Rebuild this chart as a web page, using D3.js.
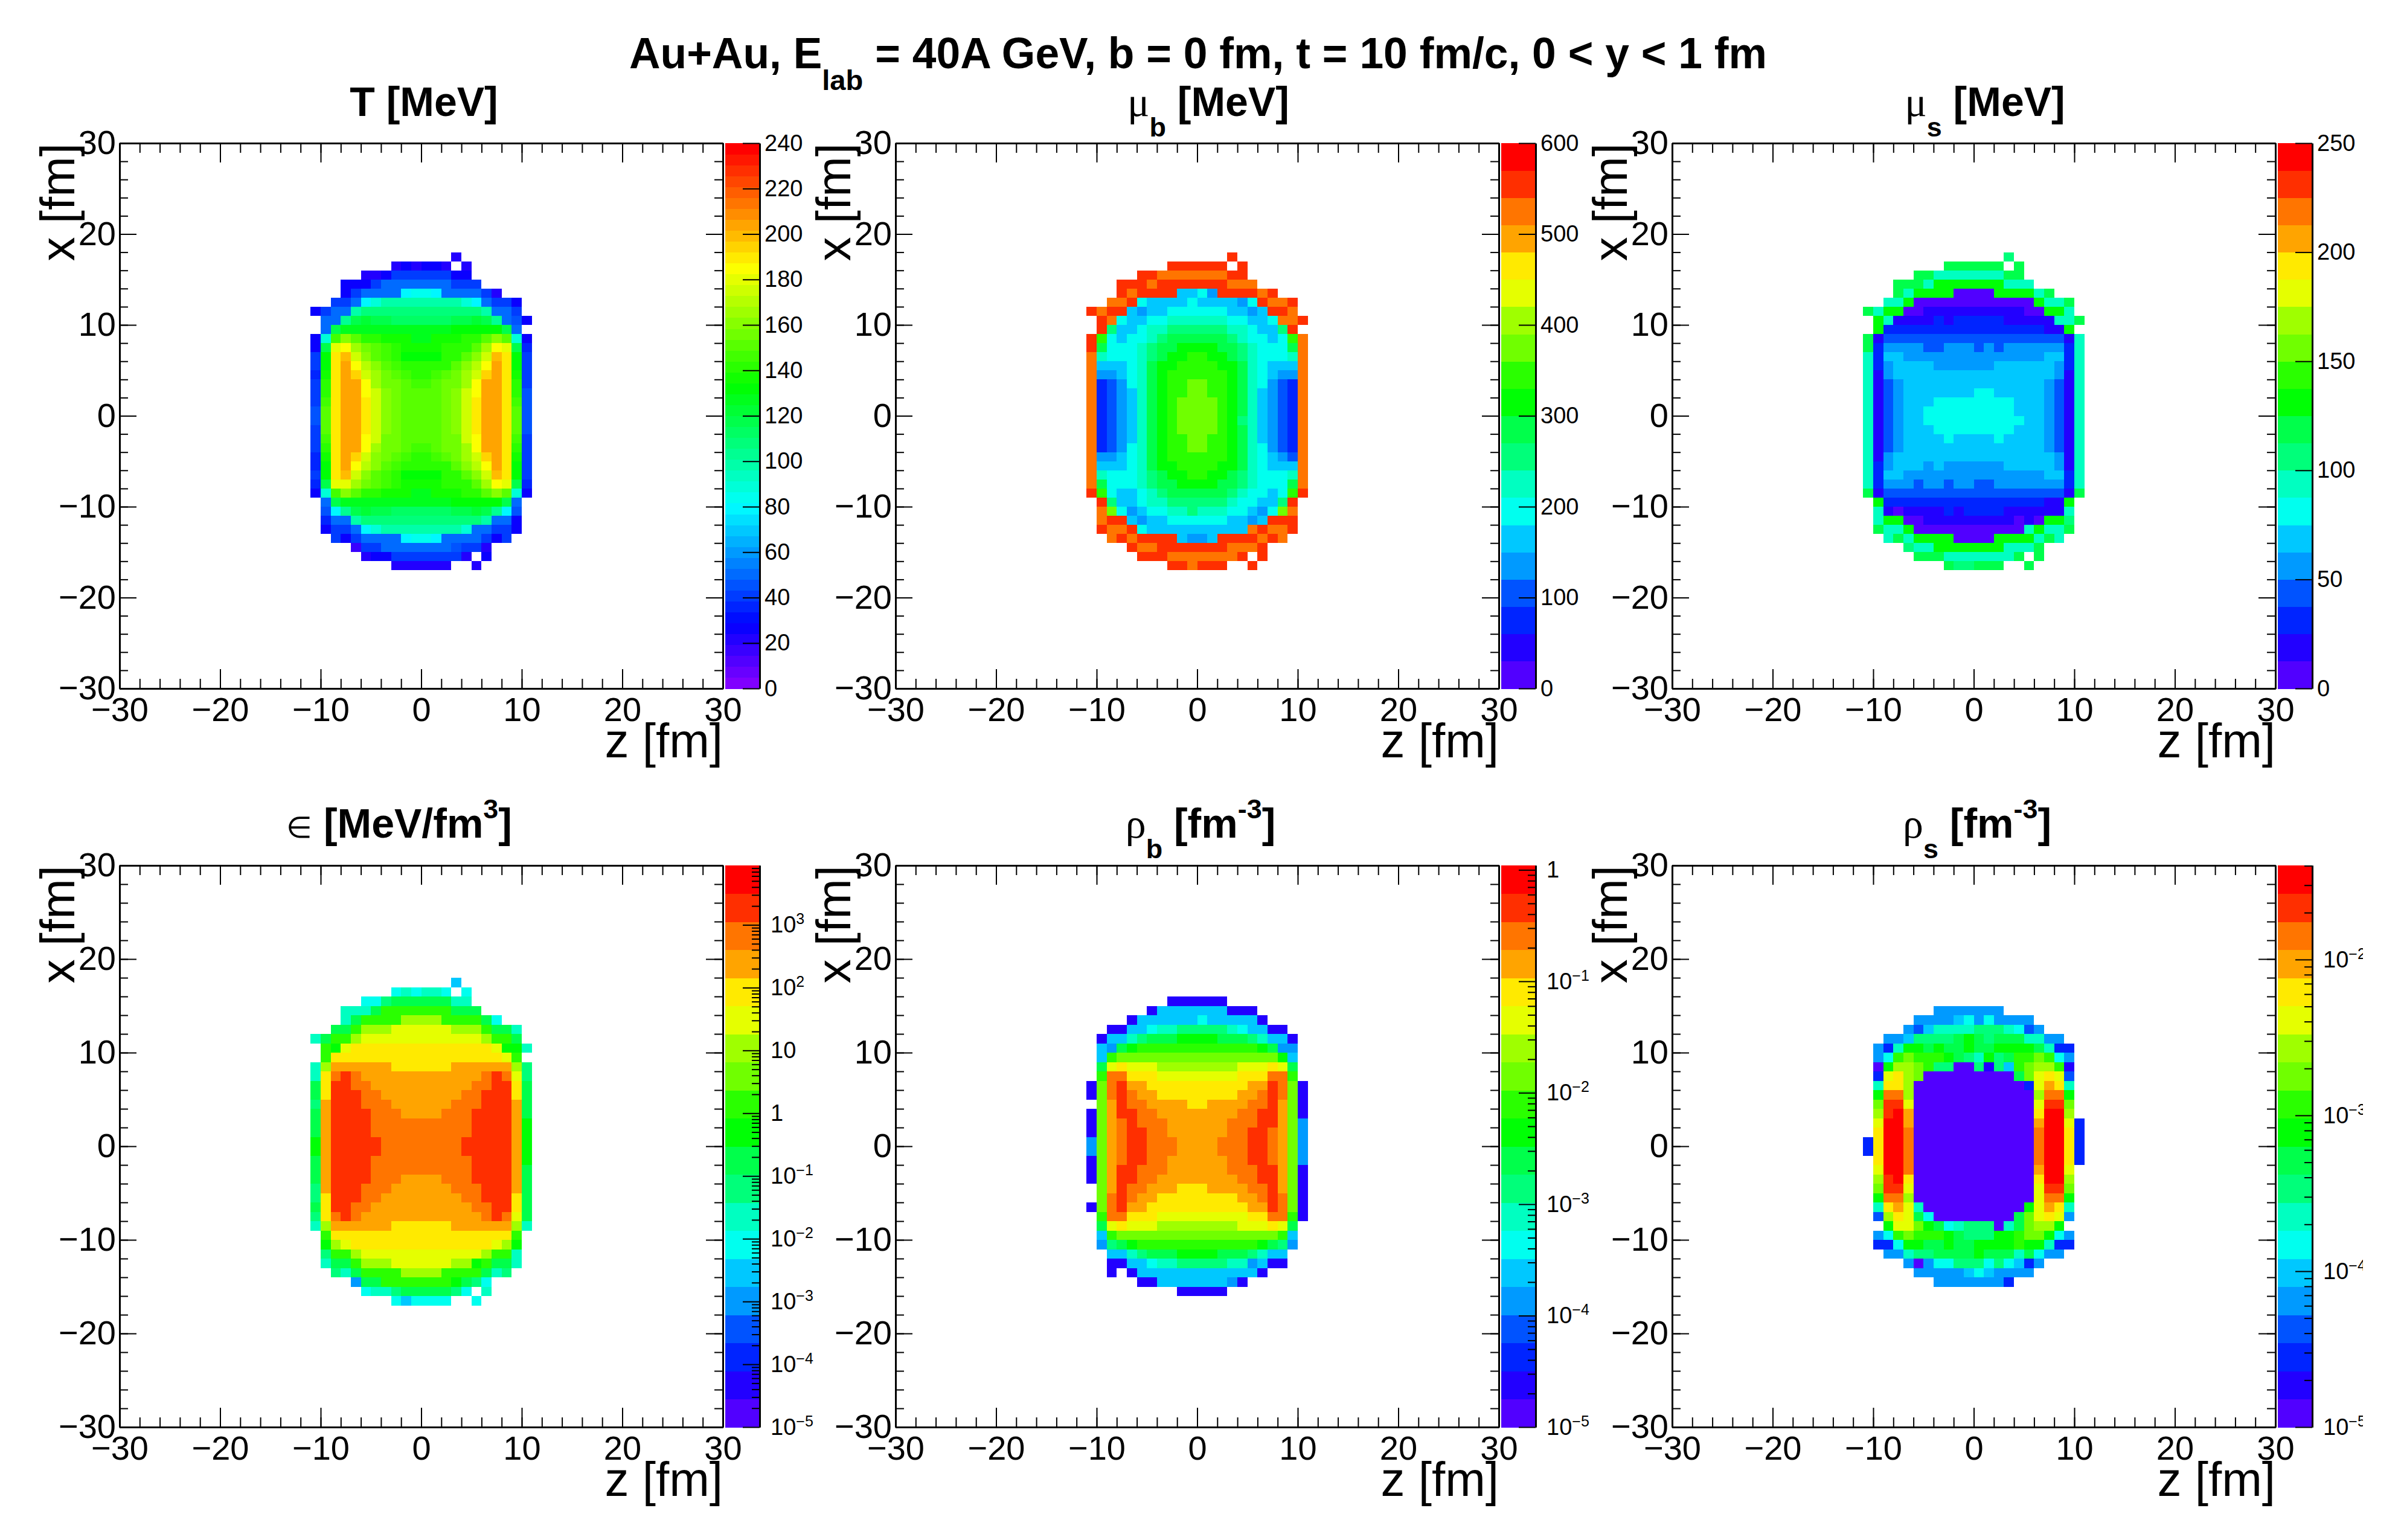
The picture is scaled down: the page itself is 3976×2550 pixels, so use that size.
<!DOCTYPE html>
<html>
<head>
<meta charset="utf-8">
<script src="https://cdn.jsdelivr.net/npm/d3@7"></script>
<style>
  body { margin: 0; background: #fff; }
  text { font-family: "Liberation Sans", Arial, sans-serif; white-space: pre; }
</style>
</head>
<body>
<svg id="chart" width="3976" height="2550"></svg>
<script>
const _ = null;

// T in MeV, rows from x = 17..18 fm down to -17..-18 fm, columns from z = -11..-10 fm
const tempMeV = [
[_,_,_,_,_,_,_,_,_,_,_,_,_,_,20],
[_,_,_,_,_,_,_,_,20,27,20,27,27,20,_,20],
[_,_,_,_,_,20,20,27,40,40,40,40,40,40,27,27],
[_,_,_,27,27,27,43,50,50,50,50,50,50,50,43,43,43],
[_,_,_,27,43,50,50,50,50,80,86,86,80,50,50,50,50,43,20],
[_,_,43,43,50,80,90,100,100,100,100,100,100,100,100,90,80,50,43,43,27],
[27,43,50,50,97,110,110,110,110,110,110,110,110,110,110,110,110,100,50,50,43],
[_,50,50,103,117,120,117,117,113,113,113,113,113,113,117,117,120,117,103,50,47,27],
[_,50,117,127,127,127,127,127,127,127,127,127,127,127,130,130,130,130,130,117,50],
[27,90,147,160,150,143,140,137,137,137,127,127,137,137,137,140,143,150,160,150,90,27],
[27,117,180,187,167,156,150,147,140,137,137,137,137,140,140,143,150,167,187,180,117,36],
[40,130,191,198,173,160,150,147,140,133,133,133,133,140,143,150,160,173,198,191,130,40],
[40,133,191,204,187,170,163,150,147,140,140,140,140,143,150,160,170,187,204,191,133,40],
[36,137,191,204,195,173,167,154,150,147,143,143,147,150,154,167,173,195,204,191,137,40],
[40,140,191,206,202,187,167,156,154,150,147,147,150,154,156,167,187,202,206,191,140,43],
[40,143,191,206,202,187,173,160,154,150,150,150,150,154,160,173,187,202,206,191,143,47],
[40,147,191,206,202,191,173,163,156,150,150,150,150,156,163,173,191,206,206,191,147,47],
[47,150,191,206,206,191,173,163,156,150,150,150,150,156,163,173,191,206,206,191,150,47],
[47,150,191,206,206,191,173,163,156,150,150,150,150,156,163,173,191,206,206,191,150,47],
[40,150,191,206,202,191,173,163,156,150,150,150,150,156,163,173,191,206,206,191,150,47],
[40,147,191,206,202,187,173,156,154,150,150,150,150,154,156,173,187,202,206,191,147,43],
[40,143,191,206,202,187,167,156,154,150,147,147,150,154,156,167,187,202,206,191,143,43],
[36,137,191,204,195,173,163,154,150,147,143,143,147,150,154,167,173,195,204,191,137,40],
[36,133,191,204,187,170,163,150,147,140,140,140,140,143,150,160,170,187,204,191,133,40],
[40,130,191,198,173,160,150,147,140,133,133,133,133,140,143,150,160,173,198,191,130,40],
[36,117,180,180,167,156,150,147,140,137,137,137,137,140,140,143,150,167,187,180,117,36],
[27,90,147,160,150,143,140,137,137,137,127,127,137,137,137,140,143,150,160,150,90,27],
[_,50,117,127,127,127,127,127,127,127,127,127,127,127,130,130,130,130,130,117,50],
[_,47,80,103,117,120,117,117,113,113,113,113,113,113,117,117,120,117,103,80,47],
[_,36,50,50,97,110,110,110,110,110,110,110,110,110,110,110,110,100,50,50,27],
[_,27,43,43,50,80,90,100,100,100,100,100,100,100,100,90,50,50,43,43,27],
[_,_,43,27,43,50,50,50,50,80,86,86,80,50,50,50,50,43,27,40],
[_,_,_,_,17,43,43,50,50,50,50,50,50,50,47,43,40,20],
[_,_,_,_,_,20,27,27,40,43,43,43,43,43,40,20,_,27],
[_,_,_,_,_,_,_,_,20,20,20,20,20,20,_,_,20]
];

// the other five panels: contour band (0..19) each cell falls in
const muBBands = [
[_,_,_,_,_,_,_,_,_,_,_,_,_,_,18],
[_,_,_,_,_,_,_,_,18,18,18,18,18,18,_,18],
[_,_,_,_,_,18,18,17,17,17,17,17,17,17,18,18],
[_,_,_,18,18,18,17,18,18,18,18,18,18,18,17,17,17],
[_,_,_,18,17,18,18,18,18,5,5,6,4,18,18,18,18,17,18],
[_,_,17,17,18,6,5,5,5,5,6,5,5,5,5,4,6,18,17,17,18],
[18,17,18,18,5,4,5,5,6,6,6,6,6,6,5,5,4,5,18,18,17],
[_,18,17,6,5,5,6,6,7,7,7,7,7,7,6,6,5,5,6,17,17,18],
[_,18,8,5,5,6,7,7,8,8,8,8,8,8,7,7,6,5,5,8,18],
[18,11,6,5,6,6,7,8,9,9,9,9,9,9,8,7,6,6,5,6,11,17],
[18,9,6,6,6,7,8,9,9,10,10,10,10,9,9,8,7,6,6,6,9,17],
[17,7,6,6,6,7,8,9,10,10,11,11,10,10,9,8,7,6,6,6,7,17],
[17,5,5,5,6,7,9,10,10,11,11,11,11,10,10,9,7,6,5,5,5,17],
[17,4,4,5,6,7,9,10,11,11,11,11,11,11,10,9,7,6,5,4,4,17],
[17,2,3,4,6,7,9,10,11,11,12,12,11,11,10,9,7,6,4,3,2,17],
[17,2,3,4,5,7,9,10,11,11,12,12,11,11,10,9,7,5,4,3,2,17],
[17,2,3,4,5,7,9,10,11,12,12,12,12,11,10,9,7,5,4,3,2,17],
[17,2,3,4,5,7,9,10,11,12,12,12,12,11,10,9,7,5,4,3,2,17],
[17,2,3,4,5,7,9,10,11,12,12,12,12,11,10,8,7,5,4,3,2,17],
[17,2,3,4,5,7,9,10,11,12,12,12,12,11,10,9,7,5,4,3,2,17],
[17,2,3,4,5,7,9,10,11,11,12,12,11,11,10,9,7,5,4,3,2,17],
[17,2,3,4,6,7,9,10,11,11,12,12,11,11,10,9,7,6,4,3,2,17],
[17,4,4,5,6,7,9,10,11,11,11,11,11,11,10,9,7,6,5,4,3,17],
[17,5,5,5,6,7,9,10,10,11,11,11,11,10,10,9,7,6,5,5,5,17],
[17,7,6,6,6,7,8,9,10,10,11,11,10,10,9,8,7,6,6,6,7,17],
[17,9,6,6,6,7,8,9,9,10,10,10,10,9,9,8,7,6,6,6,9,17],
[18,11,6,5,5,6,7,8,9,9,9,9,9,9,8,7,6,6,5,6,11,18],
[_,18,8,5,5,6,7,7,8,8,8,8,8,8,7,6,6,5,5,8,18],
[_,17,12,6,4,5,6,6,7,7,8,7,7,7,6,6,5,4,6,12,17],
[_,17,18,18,5,4,5,5,6,6,6,6,6,6,5,5,4,5,18,18,18],
[_,18,17,17,18,6,5,5,5,5,5,5,5,5,5,5,17,18,17,17,18],
[_,_,17,18,17,18,18,18,18,5,4,4,5,18,18,18,18,17,18,17],
[_,_,_,_,18,17,17,18,18,18,18,18,18,18,17,17,17,18],
[_,_,_,_,_,18,18,18,17,17,17,17,17,17,17,18,_,18],
[_,_,_,_,_,_,_,_,18,18,17,18,18,18,_,_,18]
];

const muSBands = [
[_,_,_,_,_,_,_,_,_,_,_,_,_,_,8],
[_,_,_,_,_,_,_,_,9,9,9,9,9,9,_,9],
[_,_,_,_,_,9,9,7,7,7,7,7,7,7,9,9],
[_,_,_,9,9,9,7,10,10,10,10,10,10,10,7,7,7],
[_,_,_,9,7,10,10,10,10,0,0,0,0,10,10,10,10,7,9],
[_,_,7,7,10,0,0,0,0,0,0,0,0,0,0,0,0,10,7,7,9],
[9,7,10,10,0,0,1,1,1,1,1,1,1,1,1,1,0,0,10,10,7],
[_,10,7,1,1,1,1,2,1,2,2,2,2,2,1,1,1,1,1,7,7,9],
[_,10,2,2,2,2,2,2,2,2,2,2,2,2,2,2,2,2,1,1,10],
[9,1,3,3,3,3,3,3,3,3,3,3,3,3,3,3,3,3,3,3,1,7],
[9,2,4,4,4,4,3,3,4,4,4,3,4,3,4,4,4,4,4,4,2,7],
[7,2,5,5,4,4,4,4,4,4,4,4,4,4,4,4,4,4,5,5,2,7],
[7,2,4,5,5,5,5,4,4,4,4,4,4,5,5,5,5,5,5,4,2,7],
[7,1,4,5,5,5,5,5,5,5,5,5,5,5,5,5,5,5,5,4,1,7],
[7,1,3,4,5,5,5,5,5,5,5,5,5,5,5,5,5,5,4,3,1,7],
[7,1,3,4,5,5,5,5,5,5,5,6,6,5,5,5,5,5,4,3,1,7],
[7,1,3,4,5,5,5,6,6,6,6,6,6,6,6,5,5,5,4,3,1,7],
[7,1,3,4,5,5,6,6,6,6,6,6,6,6,6,5,5,5,4,3,1,7],
[7,1,3,4,5,5,6,6,6,6,6,6,6,6,6,6,5,5,4,3,1,7],
[7,1,3,4,5,5,5,6,6,6,6,6,6,6,6,5,5,5,4,3,1,7],
[7,1,3,4,5,5,5,5,6,5,5,5,5,6,5,5,5,5,4,3,1,7],
[7,1,3,4,5,5,5,5,5,5,5,5,5,5,5,5,5,5,4,3,1,7],
[7,1,4,5,5,5,5,5,5,5,5,5,5,5,5,5,5,5,5,4,1,7],
[7,2,4,5,5,5,4,5,4,4,4,4,4,4,5,5,5,5,5,4,1,7],
[7,2,5,5,4,4,4,4,4,4,4,4,4,4,4,4,4,4,5,5,2,7],
[7,2,4,4,4,3,4,4,3,4,4,3,3,4,4,4,4,4,4,4,2,7],
[9,1,3,3,3,3,3,3,3,3,3,3,3,3,3,3,3,3,3,3,1,9],
[_,10,2,2,2,2,2,2,2,2,2,2,2,2,2,2,2,2,1,1,10],
[_,7,1,0,1,1,1,1,2,1,2,2,2,2,1,1,1,1,1,1,7],
[_,7,10,10,0,0,1,1,1,1,1,1,1,1,1,0,1,0,10,10,8],
[_,9,7,7,10,0,0,0,0,0,0,0,0,0,0,0,7,10,7,7,9],
[_,_,7,9,7,10,10,10,10,0,0,0,0,10,10,10,10,7,9,7],
[_,_,_,_,8,7,7,10,10,10,10,10,10,10,7,7,7,9],
[_,_,_,_,_,9,9,9,7,7,7,7,7,7,7,9,_,9],
[_,_,_,_,_,_,_,_,9,8,8,9,9,9,_,_,9]
];

const energyBands = [
[_,_,_,_,_,_,_,_,_,_,_,_,_,_,5],
[_,_,_,_,_,_,_,_,6,7,6,7,7,6,_,6],
[_,_,_,_,_,6,6,8,9,9,9,9,9,9,7,7],
[_,_,_,7,7,7,9,11,11,11,11,11,11,11,9,9,9],
[_,_,_,7,9,11,11,11,11,13,13,13,13,11,11,11,11,9,6],
[_,_,9,9,11,13,13,13,14,14,14,14,14,14,13,13,13,11,9,9,7],
[7,9,11,11,13,14,14,14,14,14,14,14,14,14,14,14,14,13,11,11,9],
[_,11,10,14,15,15,15,15,15,15,15,15,15,15,15,15,15,15,14,10,10,7],
[_,11,15,15,15,15,15,15,15,15,15,15,15,15,15,15,15,15,15,14,11],
[7,13,16,16,16,16,16,16,15,15,15,15,15,15,16,16,16,16,16,16,13,8],
[7,15,17,18,17,16,16,16,16,16,16,16,16,16,16,16,16,17,18,17,14,8],
[9,15,18,18,17,17,16,16,16,16,16,16,16,16,16,16,17,17,18,18,15,9],
[9,15,18,18,18,17,17,16,16,16,16,16,16,16,16,17,17,18,18,18,15,9],
[8,16,18,18,18,17,17,17,16,16,16,16,16,16,17,17,17,18,18,18,16,9],
[9,16,18,18,18,18,17,17,17,16,16,16,16,17,17,17,18,18,18,18,16,9],
[9,16,18,18,18,18,17,17,17,17,17,17,17,17,17,17,18,18,18,18,16,10],
[9,16,18,18,18,18,17,17,17,17,17,17,17,17,17,17,18,18,18,18,16,10],
[10,16,18,18,18,18,18,17,17,17,17,17,17,17,17,18,18,18,18,18,16,10],
[10,16,18,18,18,18,18,17,17,17,17,17,17,17,17,18,18,18,18,18,16,10],
[9,16,18,18,18,18,17,17,17,17,17,17,17,17,17,17,18,18,18,18,16,10],
[9,16,18,18,18,18,17,17,17,17,17,17,17,17,17,17,18,18,18,18,16,9],
[9,16,18,18,18,18,17,17,17,16,16,16,16,17,17,17,18,18,18,18,16,9],
[8,16,18,18,18,17,17,17,16,16,16,16,16,16,17,17,17,18,18,18,16,9],
[8,15,18,18,18,17,17,16,16,16,16,16,16,16,16,17,17,18,18,18,15,9],
[9,15,18,18,17,17,16,16,16,16,16,16,16,16,16,16,17,17,18,18,15,9],
[8,15,17,18,17,16,16,16,16,16,16,16,16,16,16,16,16,17,18,17,14,9],
[7,13,16,16,16,16,16,16,15,15,15,15,15,15,16,16,16,16,16,16,13,7],
[_,11,15,15,15,15,15,15,15,15,15,15,15,15,15,15,15,15,15,15,11],
[_,10,13,14,15,15,15,15,15,15,15,15,15,15,15,15,15,15,14,13,10],
[_,8,11,11,13,14,14,14,14,14,14,14,14,14,14,14,14,13,11,11,7],
[_,7,9,9,11,13,13,13,14,14,14,14,14,14,13,13,10,11,9,9,7],
[_,_,8,7,9,11,11,11,11,13,13,13,13,11,11,11,11,9,7,8],
[_,_,_,_,4,9,9,11,11,11,11,11,11,11,10,9,8,6],
[_,_,_,_,_,6,7,7,8,9,9,9,9,9,8,6,_,7],
[_,_,_,_,_,_,_,_,6,5,6,6,6,6,_,_,6]
];

const rhoBBands = [
[],
[],
[_,_,_,_,_,_,_,_,1,1,1,1,1,1],
[_,_,_,_,_,_,1,5,5,5,5,5,5,5,1,1,1],
[_,_,_,_,1,5,5,5,5,5,5,6,5,5,5,5,5,1],
[_,_,1,1,5,5,6,7,7,8,8,8,8,8,7,6,5,5,1,1],
[_,1,5,5,7,8,9,9,9,10,10,10,10,9,9,9,8,7,5,5,1],
[_,5,4,9,10,11,11,11,11,11,11,11,11,11,11,11,11,10,9,4,4],
[_,5,11,12,12,12,12,12,12,12,12,12,12,12,12,12,12,12,12,10,5],
[_,9,14,15,14,14,14,13,13,13,13,13,13,13,13,14,14,14,15,14,9],
[_,11,17,17,15,15,15,14,14,14,14,14,14,14,14,15,15,15,17,17,11],
[1,12,17,18,16,16,15,15,15,15,15,15,15,15,15,15,16,16,18,17,12,1],
[1,12,17,18,17,16,16,15,15,15,15,15,15,15,15,16,16,17,18,17,12,1],
[_,12,16,18,17,17,16,16,16,16,15,15,16,16,16,16,17,17,18,16,12,1],
[1,12,16,18,18,17,17,16,16,16,16,16,16,16,16,17,17,18,18,16,12,1],
[1,12,16,17,18,17,17,17,16,16,16,16,16,16,17,17,17,18,18,16,12,4],
[1,12,16,17,18,18,17,17,16,16,16,16,16,16,17,17,18,18,17,16,12,4],
[4,12,16,17,18,18,17,17,17,16,16,16,16,17,17,17,18,18,17,16,12,4],
[4,12,16,17,18,18,17,17,17,16,16,16,16,17,17,17,18,18,17,16,12,4],
[1,12,16,17,18,18,17,17,16,16,16,16,16,16,17,17,18,18,17,16,12,4],
[1,12,16,18,18,17,17,17,16,16,16,16,16,16,17,17,17,18,18,16,12,1],
[1,12,16,18,18,17,17,16,16,16,16,16,16,16,16,17,17,18,18,16,12,1],
[_,12,16,18,17,17,16,16,16,15,15,15,16,16,16,16,17,17,18,16,12,1],
[_,12,17,18,17,16,16,15,15,15,15,15,15,15,15,16,16,17,18,17,12,1],
[1,12,17,18,16,16,15,15,15,15,15,15,15,15,15,15,16,16,18,17,12,1],
[_,11,17,17,15,15,15,14,14,14,14,14,14,14,14,14,15,15,17,17,11,1],
[_,9,14,15,14,14,14,13,13,13,13,13,13,13,13,14,14,14,15,14,9],
[_,5,11,12,12,12,12,12,12,12,12,12,12,12,12,12,12,12,12,11,5],
[_,4,8,9,10,11,11,11,11,11,11,11,11,11,11,11,11,10,9,8,4],
[_,_,5,5,7,8,9,9,9,10,10,10,10,9,9,9,8,7,5,5],
[_,_,1,1,5,5,6,7,7,8,8,8,8,8,7,7,4,5,1,1],
[_,_,1,_,1,5,5,5,5,5,5,5,5,5,5,5,5,1],
[_,_,_,_,_,1,1,5,5,5,5,5,5,5,4,1],
[_,_,_,_,_,_,_,_,_,1,1,1,1,1],
[]
];

const rhoSBands = [
[],
[],
[],
[_,_,_,_,_,_,_,4,4,4,4,4,4,4],
[_,_,_,_,_,4,4,4,4,5,6,4,6,4,4,4,4],
[_,_,_,_,4,3,5,7,7,7,7,8,8,8,7,6,3,4],
[_,_,4,4,5,8,8,8,8,9,10,9,8,9,9,9,7,7,4,4],
[_,4,2,7,10,10,9,10,9,9,10,9,9,10,10,10,10,9,7,2,2],
[_,4,6,11,12,11,11,11,10,9,8,7,10,8,9,11,11,12,11,6,4],
[_,0,10,13,13,12,11,8,8,0,0,8,1,8,5,11,12,13,13,11,1],
[_,2,14,15,13,12,0,0,0,0,0,0,0,0,0,9,12,14,15,14,3],
[_,7,15,15,13,0,0,0,0,0,0,0,0,0,0,0,2,14,16,15,7],
[_,10,17,17,13,0,0,0,0,0,0,0,0,0,0,0,0,13,17,17,10],
[_,12,18,18,14,0,0,0,0,0,0,0,0,0,0,0,0,14,18,18,12],
[_,13,18,19,16,0,0,0,0,0,0,0,0,0,0,0,0,15,19,19,13],
[_,14,19,19,16,0,0,0,0,0,0,0,0,0,0,0,0,16,19,19,14,2],
[_,15,19,19,17,0,0,0,0,0,0,0,0,0,0,0,0,17,19,19,15,2],
[2,15,19,19,17,0,0,0,0,0,0,0,0,0,0,0,0,17,19,19,15,2],
[2,15,19,19,17,0,0,0,0,0,0,0,0,0,0,0,0,17,19,19,15,2],
[_,15,19,19,17,0,0,0,0,0,0,0,0,0,0,0,0,17,19,19,15,2],
[_,14,19,19,17,0,0,0,0,0,0,0,0,0,0,0,0,16,19,19,14],
[_,13,18,19,15,0,0,0,0,0,0,0,0,0,0,0,0,15,19,19,13],
[_,12,18,18,14,0,0,0,0,0,0,0,0,0,0,0,0,14,18,18,12],
[_,10,17,17,13,0,0,0,0,0,0,0,0,0,0,0,0,14,17,17,10],
[_,7,15,16,14,7,0,0,0,0,0,0,0,0,0,0,10,14,16,15,7],
[_,3,13,15,14,9,6,0,0,0,0,0,0,0,0,9,12,14,15,14,4],
[_,_,10,14,14,12,10,9,6,7,8,8,8,0,7,9,12,13,13,10],
[_,4,6,11,12,11,11,11,10,9,8,8,8,10,10,11,12,12,10,6,4],
[_,2,2,6,10,10,9,9,10,9,9,10,10,10,10,11,10,10,7,2,2],
[_,_,4,4,7,8,8,9,9,9,9,10,9,9,9,7,9,6,4,4],
[_,_,_,_,4,0,4,6,6,8,8,8,6,8,6,5,2,4],
[_,_,_,_,_,4,4,4,4,4,5,6,5,4,4,4,4],
[_,_,_,_,_,_,_,4,4,4,4,4,4,4,2],
[],
[],
[]
];

const panelTitles = [
  [{ s: 'T [MeV]' }],
  [{ s: 'μ', kind: 'sym' }, { s: 'b', kind: 'sub' }, { s: ' [MeV]' }],
  [{ s: 'μ', kind: 'sym' }, { s: 's', kind: 'sub' }, { s: ' [MeV]' }],
  [{ s: '∈', kind: 'sym', scale: 0.72 }, { s: ' [MeV/fm' }, { s: '3', kind: 'sup' }, { s: ']' }],
  [{ s: 'ρ', kind: 'sym' }, { s: 'b', kind: 'sub' }, { s: ' [fm' }, { s: '-3', kind: 'sup' }, { s: ']' }],
  [{ s: 'ρ', kind: 'sym' }, { s: 's', kind: 'sub' }, { s: ' [fm' }, { s: '-3', kind: 'sup' }, { s: ']' }]
];
const mainTitle = [
  { s: 'Au+Au, E' }, { s: 'lab', kind: 'sub' },
  { s: ' = 40A GeV, b = 0 fm, t = 10 fm/c, 0 < y < 1 fm' }
];
const panelRows = [tempMeV, muBBands, muSBands, energyBands, rhoBBands, rhoSBands];
const panelLog = [false, false, false, true, true, true];
const bandCounts = [50, 20, 20, 20, 20, 20];
const zMins = [0, 0, 0, -5, -5, -5];          // log10 for the three log panels
const zMaxs = [240, 600, 250, 3.947, 0.04, -1.396];
const linearTicks = [d3.range(0, 241, 20), d3.range(0, 601, 100), d3.range(0, 251, 50)];
const decadeTicks = [_, _, _, d3.range(-5, 4), d3.range(-5, 1), d3.range(-5, -1)];
const axisMajor = d3.range(-30, 31, 10);
const axisMinor = d3.range(-30, 31, 2);

const panelLefts = [198, 1483, 2769];
const panelTops = [237, 1433];
const panelBottoms = [1140, 2363];
const panelWidth = 999;
const titleCenters = [702, 2001, 3287, 661, 1988, 3274];
const titleBaselines = [192, 1387];

const svg = d3.select('#chart');

// same 50 colour hue palette ROOT picks from, sampled for n contour bands
function bandColors(n) {
  return d3.range(n).map(i => {
    const k = Math.floor((i + 0.99) * 50 / n);
    return d3.hsl(270 * (1 - k / 49), 1, 0.5).formatHex();
  });
}

function richText(sel, segs, size) {
  let shift = 0;
  segs.forEach(seg => {
    const t = sel.append('tspan').text(seg.s).attr('font-weight', 'bold').attr('font-size', size);
    let target = 0;
    if (seg.kind === 'sub') { target = size * 0.5; t.attr('font-size', size * 0.66); }
    if (seg.kind === 'sup') { target = -size * 0.47; t.attr('font-size', size * 0.66); }
    if (seg.kind === 'sym') {
      t.attr('font-weight', 'normal').attr('font-size', size * (seg.scale || 1))
        .style('font-family', '"Liberation Serif", serif');
    }
    t.attr('dy', target - shift);
    shift = target;
  });
}

function styleAxis(g, fontSize) {
  g.attr('font-size', fontSize).attr('font-family', null);
  g.selectAll('.domain').attr('stroke', '#000').attr('stroke-width', 3);
  g.selectAll('.tick line').attr('stroke', '#000').attr('stroke-width', 2);
  g.selectAll('text').attr('fill', '#000');
}

function drawPanel(index) {
  const col = index % 3;
  const row = Math.floor(index / 3);
  const left = panelLefts[col];
  const right = left + panelWidth;
  const top = panelTops[row];
  const bottom = panelBottoms[row];

  const xScale = d3.scaleLinear().domain([-30, 30]).range([left, right]);
  const yScale = d3.scaleLinear().domain([-30, 30]).range([bottom, top]);

  const n = bandCounts[index];
  const colors = bandColors(n);
  const step = (zMaxs[index] - zMins[index]) / n;
  const color = d3.scaleQuantize().domain([zMins[index], zMaxs[index]]).range(colors);
  const toValue = index === 0 ? (v => v) : (b => zMins[index] + (b + 0.5) * step);

  // cells
  const cells = [];
  panelRows[index].forEach((values, r) => {
    values.forEach((v, c) => {
      if (v !== null) cells.push({ z: -11 + c, x: 17 - r, value: toValue(v) });
    });
  });
  svg.append('g').selectAll('rect').data(cells).enter().append('rect')
    .attr('x', d => xScale(d.z))
    .attr('y', d => yScale(d.x + 1))
    .attr('width', d => xScale(d.z + 1) - xScale(d.z))
    .attr('height', d => yScale(d.x) - yScale(d.x + 1))
    .attr('fill', d => color(d.value))
    .attr('shape-rendering', 'crispEdges');

  // frame: major and minor ticks on all four sides
  const fmt = d3.format('d');
  const addAxis = (axis, tx, ty, fontSize) => {
    const g = svg.append('g').attr('transform', `translate(${tx},${ty})`).call(axis);
    styleAxis(g, fontSize);
    return g;
  };
  addAxis(d3.axisBottom(xScale).tickValues(axisMinor).tickSize(-16).tickSizeOuter(0).tickFormat(''), 0, bottom, 10);
  addAxis(d3.axisTop(xScale).tickValues(axisMinor).tickSize(-16).tickSizeOuter(0).tickFormat(''), 0, top, 10);
  addAxis(d3.axisLeft(yScale).tickValues(axisMinor).tickSize(-14).tickSizeOuter(0).tickFormat(''), left, 0, 10);
  addAxis(d3.axisRight(yScale).tickValues(axisMinor).tickSize(-14).tickSizeOuter(0).tickFormat(''), right, 0, 10);
  addAxis(d3.axisBottom(xScale).tickValues(axisMajor).tickSize(-32).tickSizeOuter(0).tickPadding(14).tickFormat(fmt), 0, bottom, 56);
  addAxis(d3.axisTop(xScale).tickValues(axisMajor).tickSize(-32).tickSizeOuter(0).tickFormat(''), 0, top, 10);
  addAxis(d3.axisLeft(yScale).tickValues(axisMajor).tickSize(-28).tickSizeOuter(0).tickPadding(6).tickFormat(fmt), left, 0, 56);
  addAxis(d3.axisRight(yScale).tickValues(axisMajor).tickSize(-28).tickSizeOuter(0).tickFormat(''), right, 0, 10);

  // axis titles
  svg.append('text').attr('x', right).attr('y', bottom + 114)
    .attr('text-anchor', 'end').attr('font-size', 80).text('z [fm]');
  svg.append('text').attr('transform', `translate(${left - 75},${top}) rotate(-90)`)
    .attr('text-anchor', 'end').attr('font-size', 80).text('x [fm]');

  // colour bar
  const barLeft = right + 4;
  const barRight = right + 61;
  const isLog = panelLog[index];
  const barBands = d3.range(n);
  const bandScale = d3.scaleLinear().domain([zMins[index], zMaxs[index]]).range([bottom, top]);
  svg.append('g').selectAll('rect').data(barBands).enter().append('rect')
    .attr('x', barLeft)
    .attr('width', barRight - barLeft)
    .attr('y', i => bandScale(zMins[index] + (i + 1) * step))
    .attr('height', () => bandScale(zMins[index]) - bandScale(zMins[index] + step) + 0.5)
    .attr('fill', i => colors[i])
    .attr('shape-rendering', 'crispEdges');

  if (isLog) {
    const logScale = d3.scaleLog().domain([1e-5, Math.pow(10, zMaxs[index])]).range([bottom, top]);
    const minors = [];
    for (let e = -5; e < zMaxs[index]; e++) {
      d3.range(2, 10).forEach(m => {
        const v = m * Math.pow(10, e);
        if (v < Math.pow(10, zMaxs[index])) minors.push(v);
      });
    }
    addAxis(d3.axisRight(logScale).tickValues(minors).tickSize(-13).tickSizeOuter(0).tickFormat(''), barRight, 0, 10);
    const majors = decadeTicks[index].map(e => Math.pow(10, e));
    const g = addAxis(d3.axisRight(logScale).tickValues(majors).tickSize(-28).tickSizeOuter(0).tickPadding(18).tickFormat(''), barRight, 0, 38);
    g.selectAll('.tick text').each(function (d) {
      const e = Math.round(Math.log10(d));
      const t = d3.select(this);
      if (e === 0) t.text('1');
      else if (e === 1) t.text('10');
      else {
        t.text('10');
        t.append('tspan').attr('dy', -14).attr('font-size', 25).text(e < 0 ? '−' + (-e) : e);
      }
    });
  } else {
    addAxis(d3.axisRight(bandScale).tickValues(linearTicks[index]).tickSize(-28).tickSizeOuter(0).tickPadding(8).tickFormat(fmt), barRight, 0, 38);
  }

  // panel title
  svg.append('text').attr('x', titleCenters[index]).attr('y', titleBaselines[row])
    .attr('text-anchor', 'middle').call(richText, panelTitles[index], 68);
}

d3.range(6).forEach(drawPanel);

svg.append('text').attr('x', 1984).attr('y', 113).attr('text-anchor', 'middle')
  .call(richText, mainTitle, 71.4);

// the original picture is cut off to the right of the last colour bar labels
svg.append('rect').attr('x', 3913).attr('y', 0).attr('width', 63).attr('height', 2550).attr('fill', '#fff');
</script>
</body>
</html>
